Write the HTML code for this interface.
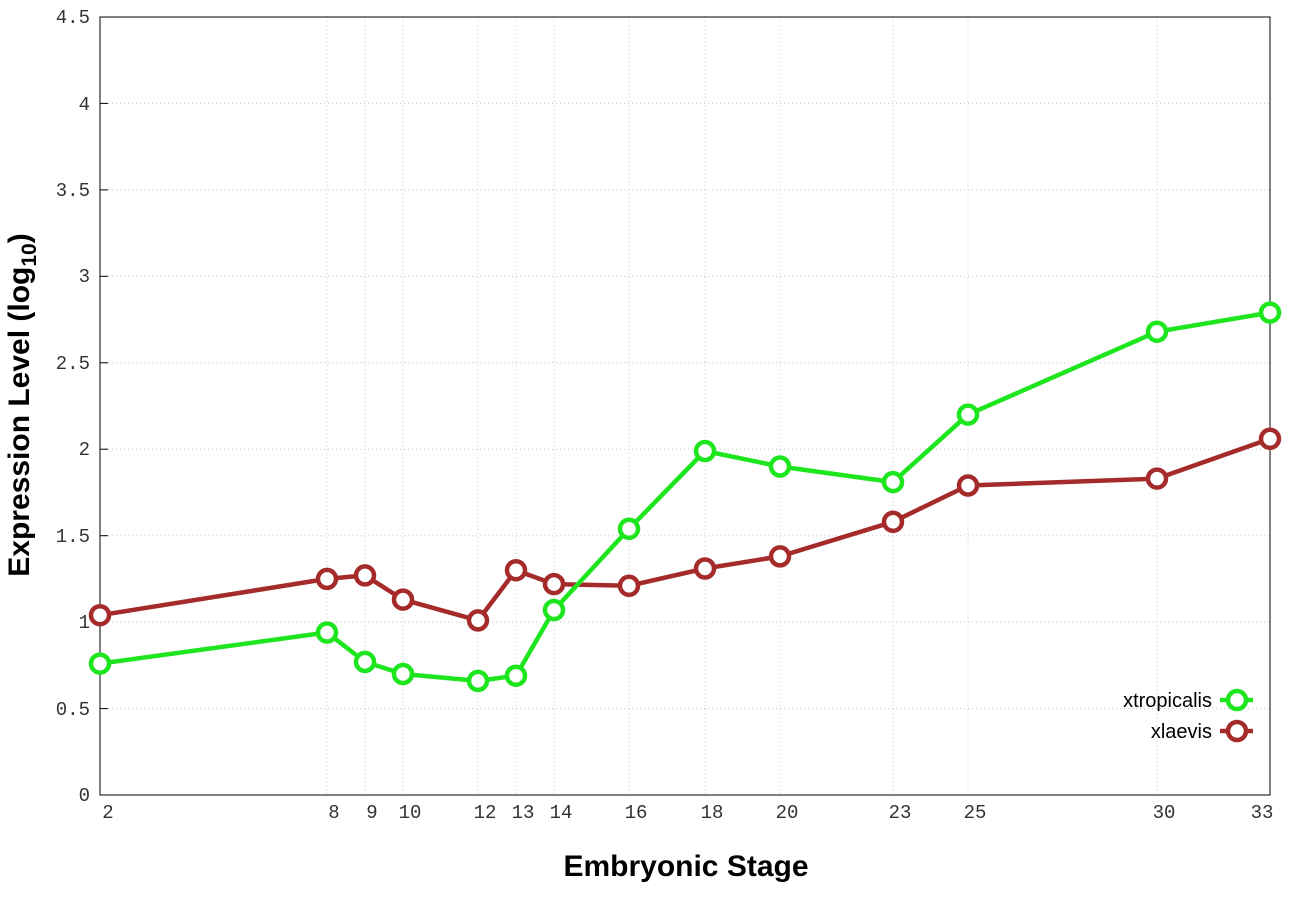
<!DOCTYPE html>
<html><head><meta charset="utf-8"><style>
html,body{margin:0;padding:0;background:#fff;}
svg{display:block;}
.t{font-family:"Liberation Mono",monospace;font-size:19px;fill:#333;}
.ax{font-family:"Liberation Sans",sans-serif;font-size:30px;font-weight:bold;fill:#000;}
.lg{font-family:"Liberation Sans",sans-serif;font-size:20px;fill:#000;}
</style></head><body>
<svg width="1296" height="907" viewBox="0 0 1296 907" xmlns="http://www.w3.org/2000/svg">
<g stroke="#c8c8c8" stroke-width="1" stroke-dasharray="1,3">
<line x1="100" x2="1270" y1="708.6" y2="708.6"/><line x1="100" x2="1270" y1="622.1" y2="622.1"/>
<line x1="100" x2="1270" y1="535.7" y2="535.7"/><line x1="100" x2="1270" y1="449.2" y2="449.2"/>
<line x1="100" x2="1270" y1="362.8" y2="362.8"/><line x1="100" x2="1270" y1="276.3" y2="276.3"/>
<line x1="100" x2="1270" y1="189.9" y2="189.9"/><line x1="100" x2="1270" y1="103.4" y2="103.4"/>
<line x1="327" x2="327" y1="17" y2="795"/><line x1="365" x2="365" y1="17" y2="795"/>
<line x1="403" x2="403" y1="17" y2="795"/><line x1="478" x2="478" y1="17" y2="795"/>
<line x1="516" x2="516" y1="17" y2="795"/><line x1="554" x2="554" y1="17" y2="795"/>
<line x1="629" x2="629" y1="17" y2="795"/><line x1="705" x2="705" y1="17" y2="795"/>
<line x1="780" x2="780" y1="17" y2="795"/><line x1="893" x2="893" y1="17" y2="795"/>
<line x1="968" x2="968" y1="17" y2="795"/><line x1="1157" x2="1157" y1="17" y2="795"/>
</g>
<rect x="100" y="17" width="1170" height="778" fill="none" stroke="#000" stroke-width="1"/>
<g stroke="#000" stroke-width="1">
<line x1="100" x2="108" y1="708.6" y2="708.6"/><line x1="100" x2="108" y1="622.1" y2="622.1"/>
<line x1="100" x2="108" y1="535.7" y2="535.7"/><line x1="100" x2="108" y1="449.2" y2="449.2"/>
<line x1="100" x2="108" y1="362.8" y2="362.8"/><line x1="100" x2="108" y1="276.3" y2="276.3"/>
<line x1="100" x2="108" y1="189.9" y2="189.9"/><line x1="100" x2="108" y1="103.4" y2="103.4"/>
</g>
<g class="t" text-anchor="end">
<text x="90" y="801">0</text><text x="90" y="715">0.5</text><text x="90" y="628">1</text>
<text x="90" y="542">1.5</text><text x="90" y="455">2</text><text x="90" y="369">2.5</text>
<text x="90" y="282">3</text><text x="90" y="196">3.5</text><text x="90" y="110">4</text><text x="90" y="23">4.5</text>
</g>
<g class="t" text-anchor="middle">
<text x="108" y="818">2</text><text x="334" y="818">8</text><text x="372" y="818">9</text>
<text x="410" y="818">10</text><text x="485" y="818">12</text><text x="523" y="818">13</text>
<text x="561" y="818">14</text><text x="636" y="818">16</text><text x="712" y="818">18</text>
<text x="787" y="818">20</text><text x="900" y="818">23</text><text x="975" y="818">25</text>
<text x="1164" y="818">30</text><text x="1262" y="818">33</text>
</g>
<text class="ax" x="686" y="876" text-anchor="middle">Embryonic Stage</text>
<text class="ax" transform="translate(29,405) rotate(-90)" text-anchor="middle">Expression Level (log<tspan font-size="21" dy="7">10</tspan><tspan dy="-7">)</tspan></text>
<g fill="#fff" stroke-width="4.5" stroke-linejoin="round">
<polyline fill="none" stroke="#a52a2a" points="100,615.2 327,578.9 365,575.4 403,599.6 478,620.4 516,570.2 554,584.1 629,585.8 705,568.5 780,556.4 893,521.8 968,485.5 1157,478.6 1270,438.8"/>
<g stroke="#a52a2a">
<circle cx="100" cy="615.2" r="9"/><circle cx="327" cy="578.9" r="9"/><circle cx="365" cy="575.4" r="9"/><circle cx="403" cy="599.6" r="9"/><circle cx="478" cy="620.4" r="9"/><circle cx="516" cy="570.2" r="9"/><circle cx="554" cy="584.1" r="9"/><circle cx="629" cy="585.8" r="9"/><circle cx="705" cy="568.5" r="9"/><circle cx="780" cy="556.4" r="9"/><circle cx="893" cy="521.8" r="9"/><circle cx="968" cy="485.5" r="9"/><circle cx="1157" cy="478.6" r="9"/><circle cx="1270" cy="438.8" r="9"/>
</g>
<polyline fill="none" stroke="#1ee61e" points="100,663.6 327,632.5 365,661.9 403,674.0 478,680.9 516,675.7 554,610.0 629,528.8 705,451.0 780,466.5 893,482.1 968,414.6 1157,331.7 1270,312.6"/>
<g stroke="#1ee61e">
<circle cx="100" cy="663.6" r="9"/><circle cx="327" cy="632.5" r="9"/><circle cx="365" cy="661.9" r="9"/><circle cx="403" cy="674.0" r="9"/><circle cx="478" cy="680.9" r="9"/><circle cx="516" cy="675.7" r="9"/><circle cx="554" cy="610.0" r="9"/><circle cx="629" cy="528.8" r="9"/><circle cx="705" cy="451.0" r="9"/><circle cx="780" cy="466.5" r="9"/><circle cx="893" cy="482.1" r="9"/><circle cx="968" cy="414.6" r="9"/><circle cx="1157" cy="331.7" r="9"/><circle cx="1270" cy="312.6" r="9"/>
</g>
<line x1="1220" x2="1253" y1="700" y2="700" stroke="#1ee61e"/><circle cx="1237" cy="700" r="9" stroke="#1ee61e"/>
<line x1="1220" x2="1253" y1="731" y2="731" stroke="#a52a2a"/><circle cx="1237" cy="731" r="9" stroke="#a52a2a"/>
</g>
<text class="lg" x="1212" y="707" text-anchor="end">xtropicalis</text>
<text class="lg" x="1212" y="738" text-anchor="end">xlaevis</text>
</svg>
</body></html>
